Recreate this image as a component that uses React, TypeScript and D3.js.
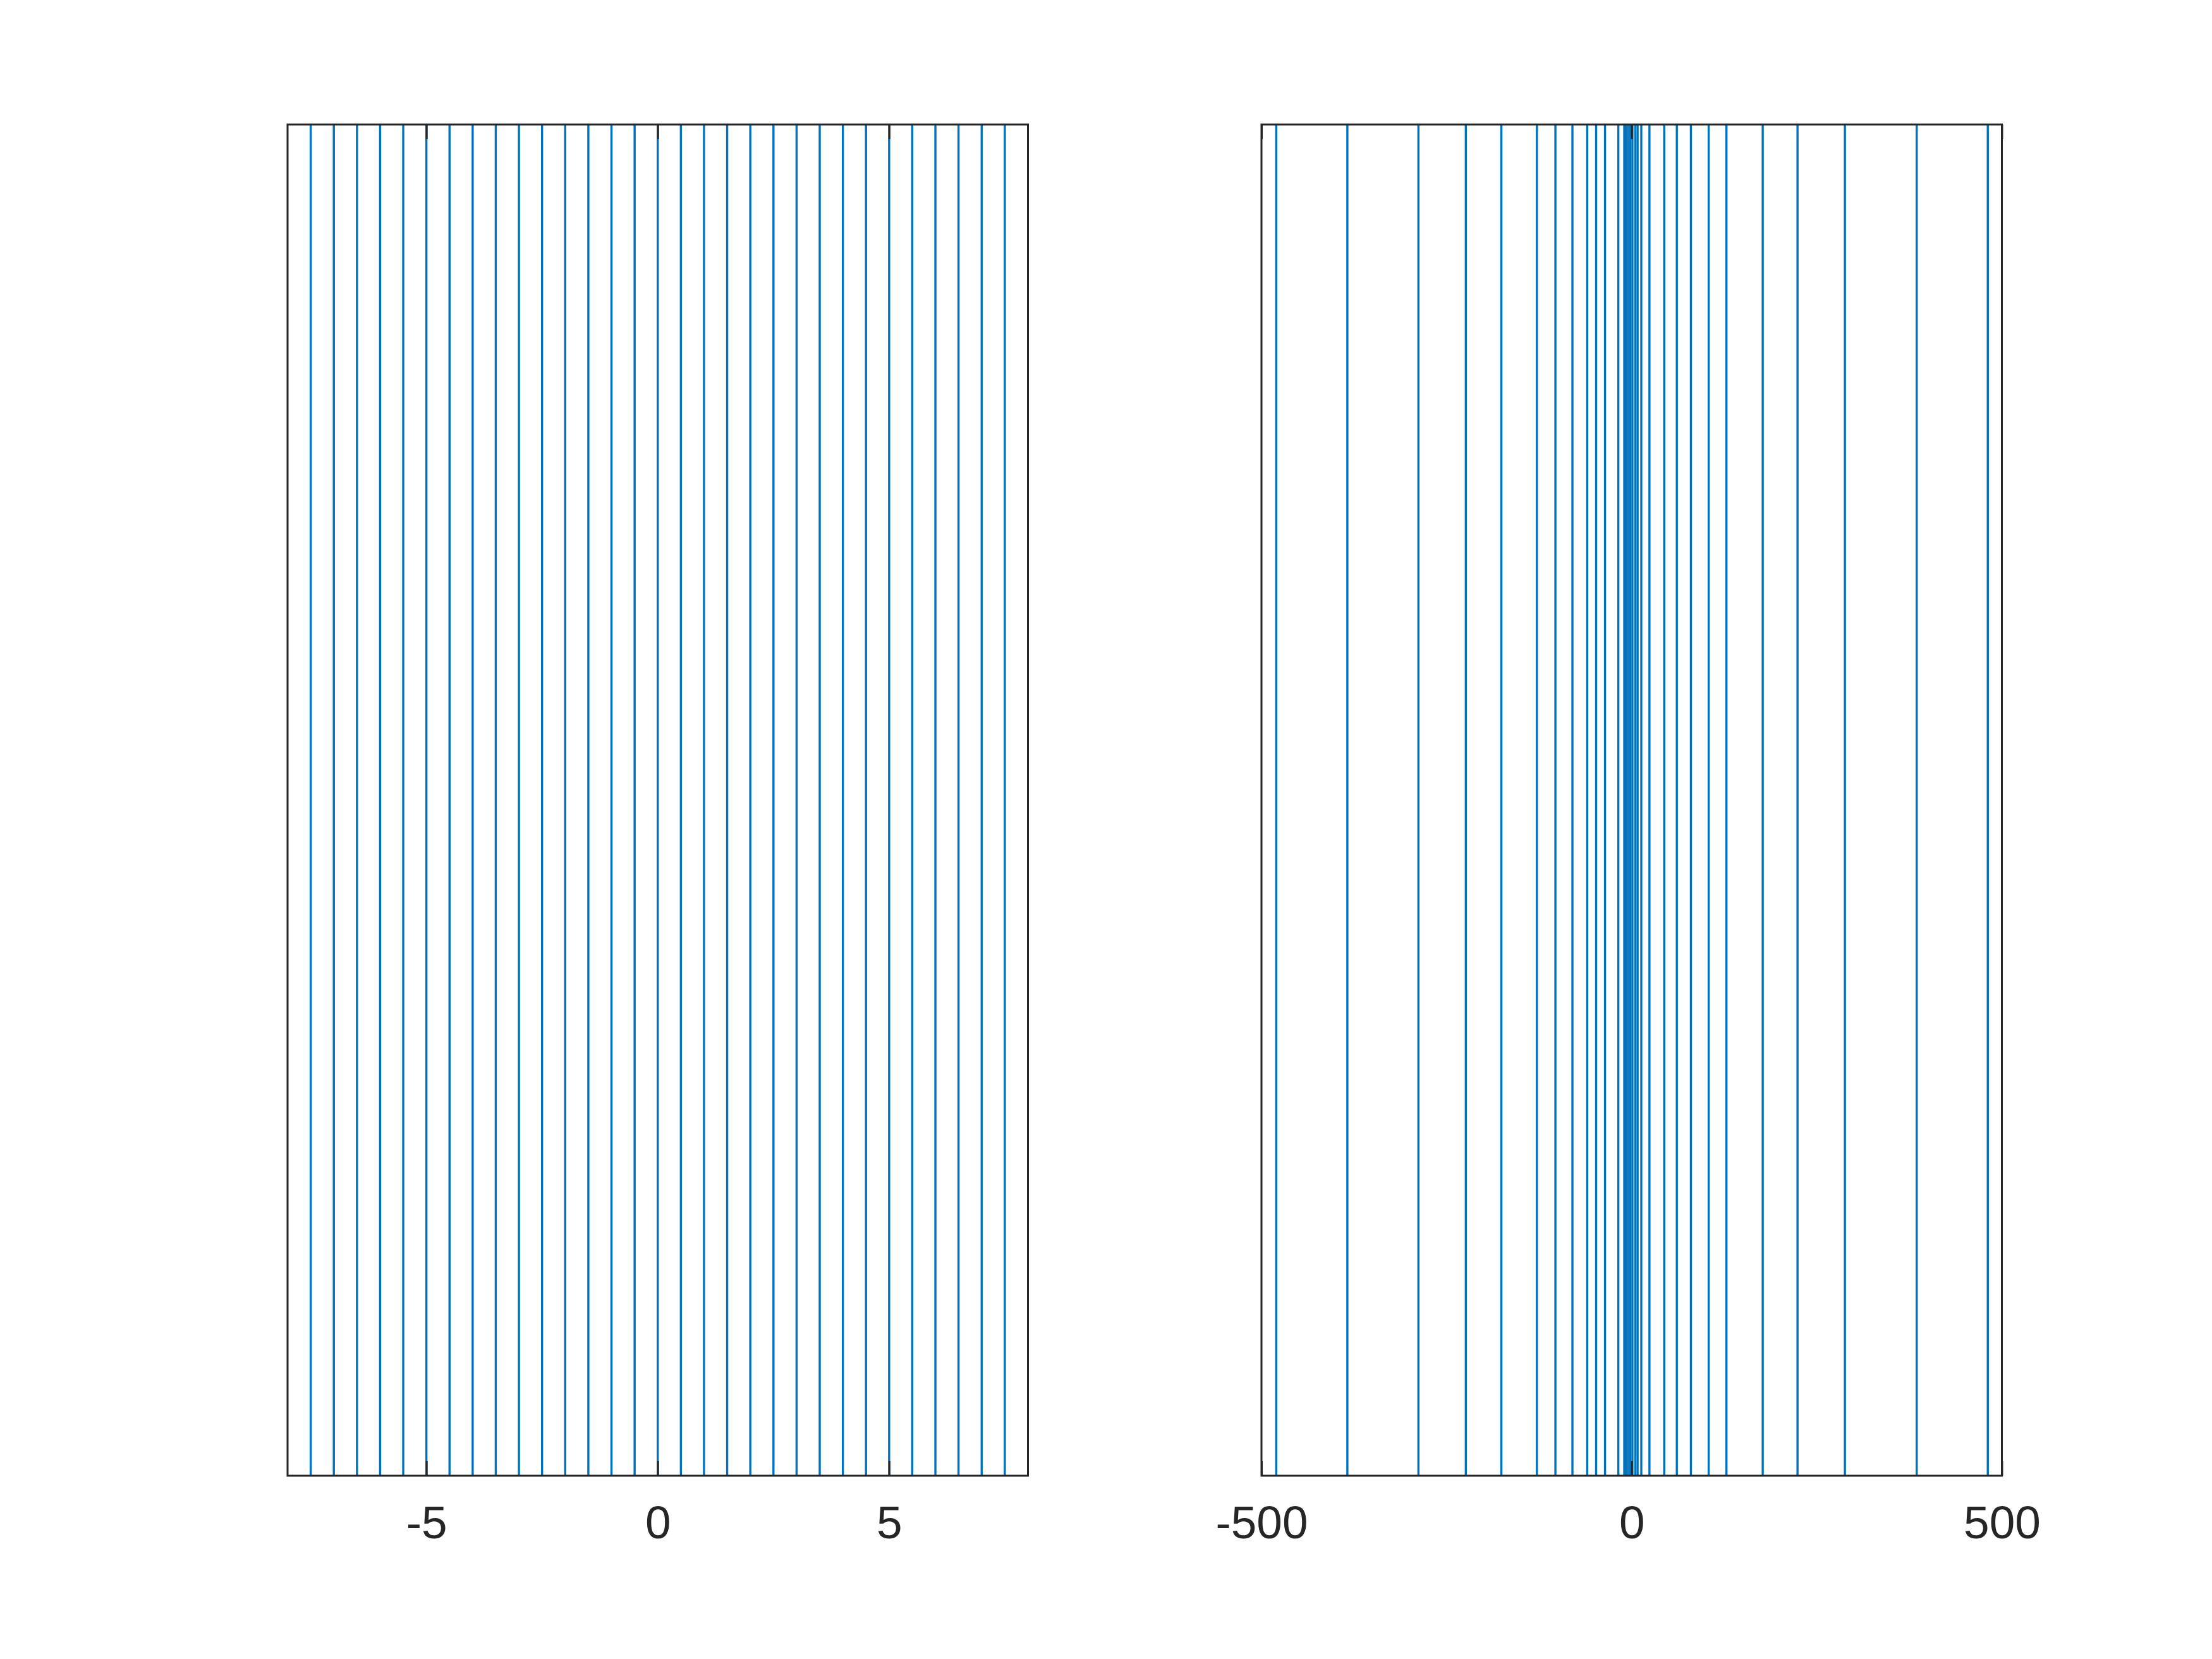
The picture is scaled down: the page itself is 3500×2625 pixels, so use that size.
import * as d3 from "d3";
import { useEffect, useRef } from "react";

// x positions of the vertical lines, left panel
const leftLines = [
    -7.5, -7, -6.5, -6, -5.5, -5, -4.5, -4, -3.5, -3, -2.5, -2, -1.5, -1, -0.5, 0,
    0.5, 1, 1.5, 2, 2.5, 3, 3.5, 4, 4.5, 5, 5.5, 6, 6.5, 7, 7.5,
];
// x positions of the vertical lines, right panel
const rightLines = [
    -480, -384, -288, -224, -176, -128, -103, -80, -60, -48, -36, -18, -10, -8, -5, -2,
    1, 5, 8, 13, 24, 44, 61, 80, 104, 128, 177, 224, 288, 385, 481,
];
const leftDomain = [-8, 8];
const rightDomain = [-500, 500];
const leftTicks = [-5, 0, 5];
const rightTicks = [-500, 0, 500];

const W = 3500;
const H = 2625;
const plotTop = 197;
const plotBottom = 2335;
const panels = [
    { x0: 455, x1: 1626.5, domain: leftDomain, lines: leftLines, ticks: leftTicks },
    { x0: 1996, x1: 3167.5, domain: rightDomain, lines: rightLines, ticks: rightTicks },
];

const axisColor = "#262626";
const lineColor = "#0072BD";

const App = () => {
    const svgRef = useRef<SVGSVGElement>(null);

    useEffect(() => {
        if (svgRef.current) drawChart();
    }, [svgRef]);

    const drawChart = () => {
        const svg = d3.select(svgRef.current);
        svg.selectAll("*").remove();
        svg.append("rect").attr("width", W).attr("height", H).attr("fill", "#ffffff");

        panels.forEach((p) => {
            const scaleX = d3.scaleLinear().domain(p.domain).range([p.x0, p.x1]);
            const g = svg.append("g");

            // vertical lines
            g.selectAll("line.vl")
                .data(p.lines)
                .enter()
                .append("line")
                .attr("class", "vl")
                .attr("x1", (d) => scaleX(d))
                .attr("x2", (d) => scaleX(d))
                .attr("y1", plotTop)
                .attr("y2", plotBottom)
                .attr("stroke", lineColor)
                .attr("stroke-width", 3.4);

            // bottom axis with inward ticks
            const bottom = g
                .append("g")
                .attr("transform", "translate(0," + plotBottom + ")")
                .call(
                    d3
                        .axisBottom(scaleX)
                        .tickValues(p.ticks)
                        .tickSize(-23)
                        .tickPadding(47)
                        .tickFormat((d) => `${d}`)
                );
            bottom.select(".domain").remove();
            bottom.selectAll("line").attr("stroke", axisColor).attr("stroke-width", 3);
            bottom
                .selectAll("text")
                .attr("fill", axisColor)
                .style("font-family", "'Liberation Sans', Arial, Helvetica, sans-serif")
                .style("font-size", "73px");

            // top mirrored ticks
            const top = g
                .append("g")
                .attr("transform", "translate(0," + plotTop + ")")
                .call(d3.axisTop(scaleX).tickValues(p.ticks).tickSize(-23).tickFormat(() => ""));
            top.select(".domain").remove();
            top.selectAll("line").attr("stroke", axisColor).attr("stroke-width", 3);

            // box
            g.append("rect")
                .attr("x", p.x0)
                .attr("y", plotTop)
                .attr("width", p.x1 - p.x0)
                .attr("height", plotBottom - plotTop)
                .attr("fill", "none")
                .attr("stroke", axisColor)
                .attr("stroke-width", 3);
        });
    };

    return (
        <svg
            ref={svgRef}
            width={W}
            height={H}
            style={{ position: "absolute", left: 0, top: 0, display: "block" }}
        />
    );
};

export default App;
